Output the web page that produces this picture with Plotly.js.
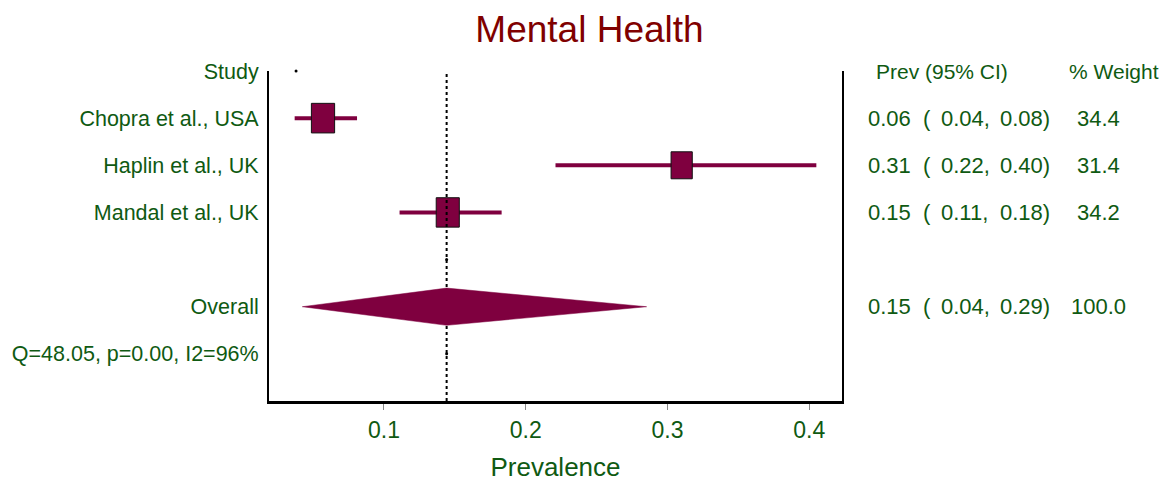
<!DOCTYPE html>
<html>
<head>
<meta charset="utf-8">
<script src="https://cdn.plot.ly/plotly-3.0.1.min.js"></script>
<style>html,body{margin:0;padding:0;background:#fff;}#chart{width:1169px;height:489px;}</style>
</head>
<body>
<div id="chart"></div>
<script>
// ---- data ----
const studies = ["Chopra et al., USA", "Haplin et al., UK", "Mandal et al., UK"];
const prev = [0.057, 0.310, 0.145];
const ciLow = [0.037, 0.221, 0.111];
const ciHigh = [0.081, 0.405, 0.183];
const weights = [34.4, 31.4, 34.2];
const prevText = ["0.06", "0.31", "0.15"];
const lowText = ["0.04", "0.22", "0.11"];
const highText = ["0.08", "0.40", "0.18"];
const weightText = ["34.4", "31.4", "34.2"];
const overallEst = 0.1442;
const overallLow = 0.0424;
const overallHigh = 0.2853;
const overallText = ["0.15", "0.04", "0.29", "100.0"];
const hetText = "Q=48.05, p=0.00, I2=96%";
const headerLabels = ["Study", "Prev (95% CI)", "% Weight"];
const xTicks = [0.1, 0.2, 0.3, 0.4];
const xTickText = ["0.1", "0.2", "0.3", "0.4"];
const axisTitle = "Prevalence";
const chartTitle = "Mental Health";

// ---- layout helpers ----
const FONT = "Liberation Sans, Arial, sans-serif";
const GREEN = "#0f5a12";
const MAROON = "#7f003f";
const rows = studies.map((s, i) => i + 1);
const overallRow = 5, hetRow = 6, blankRow = 4;

const traces = [];
studies.forEach((s, i) => {
  traces.push({
    type: "scatter", mode: "lines",
    x: [ciLow[i], ciHigh[i]], y: [rows[i], rows[i]],
    line: {color: MAROON, width: 4},
    hoverinfo: "skip", showlegend: false, cliponaxis: false
  });
});
// small dots
traces.push({
  type: "scatter", mode: "markers",
  x: [ciLow[0] + 0.001, overallEst, overallEst], y: [0, blankRow, hetRow],
  marker: {color: "#000", size: 3},
  hoverinfo: "skip", showlegend: false, cliponaxis: false
});

const shapes = [];
studies.forEach((s, i) => {
  const w = weights[i] * 0.675, h = weights[i] * 0.86;
  shapes.push({
    type: "rect", xref: "x", yref: "y",
    xsizemode: "pixel", ysizemode: "pixel",
    xanchor: prev[i], yanchor: rows[i],
    x0: -w / 2, x1: w / 2, y0: -h / 2, y1: h / 2,
    fillcolor: MAROON, line: {color: "#111", width: 1}, layer: "above"
  });
});
shapes.push({
  type: "line", xref: "x", yref: "paper",
  x0: overallEst, x1: overallEst, y0: 0, y1: 1,
  line: {color: "#000", width: 2, dash: "dot"}, layer: "above"
});
const dh = 0.395;
shapes.push({
  type: "path", xref: "x", yref: "y",
  path: `M ${overallLow},${overallRow} L ${overallEst},${overallRow - dh} L ${overallHigh},${overallRow} L ${overallEst},${overallRow + dh} Z`,
  fillcolor: MAROON, line: {color: MAROON, width: 0.5}, layer: "above"
});

// right-hand annotations
const L = 269, R = 842, W = R - L;
const px = p => (p - L) / W;
const annFont = {family: FONT, size: 22, color: GREEN};
const hdrFont = {family: FONT, size: 21, color: GREEN};
const annotations = [];
function txt(x, y, text, anchor, font) {
  annotations.push({xref: "paper", yref: "y", x: px(x), y: y, xanchor: anchor, yanchor: "middle",
    text: text, showarrow: false, font: font || annFont});
}
txt(874, 0, headerLabels[1], "left", hdrFont);
txt(1114, 0, headerLabels[2], "center", hdrFont);
function ciRow(y, est, lo, hi, wt) {
  txt(866, y, est, "left");
  txt(921, y, "(", "left");
  txt(939, y, lo + ",", "left");
  txt(998, y, hi + ")", "left");
  txt(1098.5, y, wt, "center");
}
studies.forEach((s, i) => ciRow(rows[i], prevText[i], lowText[i], highText[i], weightText[i]));
ciRow(overallRow, overallText[0], overallText[1], overallText[2], overallText[3]);

const layout = {
  width: 1169, height: 489,
  margin: {l: L, r: 1169 - R, t: 71, b: 88},
  paper_bgcolor: "#fff", plot_bgcolor: "#fff",
  showlegend: false,
  title: {text: chartTitle, font: {family: FONT, size: 37, color: "#800000"},
    xref: "container", x: 589.5 / 1169, xanchor: "center",
    yref: "container", y: 1 - 29 / 489, yanchor: "middle"},
  xaxis: {
    range: [0.0189, 0.4231], tickvals: xTicks, ticktext: xTickText,
    ticks: "outside", ticklen: 6, tickwidth: 1, tickcolor: "#888",
    showline: true, linecolor: "#000", linewidth: 3, mirror: false,
    showgrid: false, zeroline: false,
    tickfont: {family: FONT, size: 23, color: GREEN},
    title: {text: axisTitle, font: {family: FONT, size: 26, color: GREEN}, standoff: 17}
  },
  yaxis: {
    range: [7, 0], tickvals: [0, ...rows, overallRow, hetRow],
    ticktext: [headerLabels[0], ...studies, "Overall", hetText],
    ticks: "", showline: true, linecolor: "#000", linewidth: 2, mirror: true,
    showgrid: false, zeroline: false, ticklabelstandoff: 4,
    tickfont: {family: FONT, size: 21.5, color: GREEN}
  },
  shapes: shapes,
  annotations: annotations
};

Plotly.newPlot("chart", traces, layout, {displayModeBar: false, staticPlot: true});
</script>
</body>
</html>
